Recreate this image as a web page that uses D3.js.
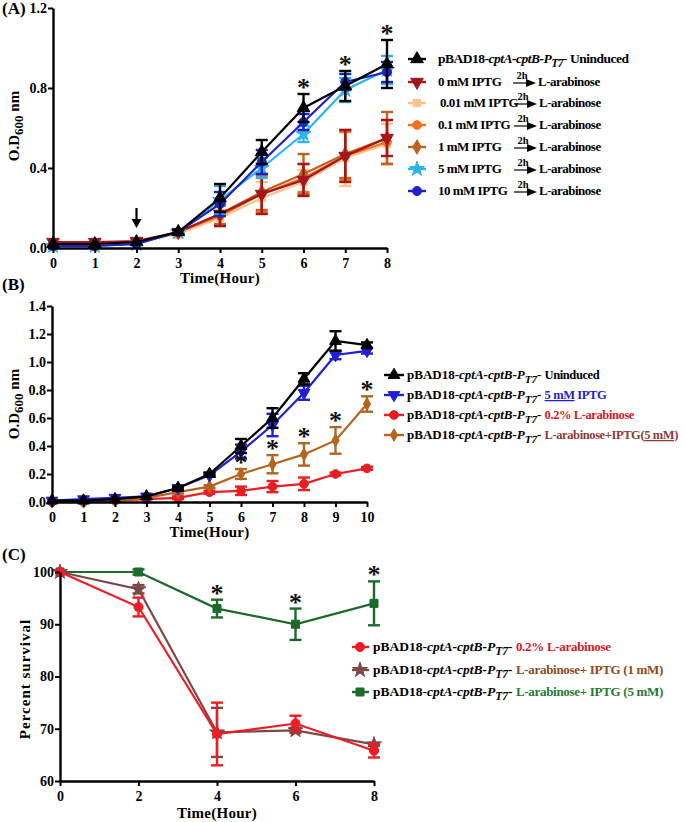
<!DOCTYPE html>
<html><head><meta charset="utf-8">
<script src="https://cdn.jsdelivr.net/npm/d3@7"></script>
<style>
body{margin:0;background:#fff}
text{font-family:"Liberation Serif","Times New Roman",serif;font-weight:bold}
</style>
</head><body>
<svg id="c" width="686" height="822"></svg>
<script>
// ---------------- Panel A data ----------------
const hoursA = [0,1,2,3,4,5,6,7,8];
const aUninduced    = [0.02,0.02,0.03,0.08,0.25,0.48,0.70,0.81,0.92];
const aUninducedErr = [0,0,0,0.01,0.07,0.06,0.07,0.075,0.12];
const a0mM          = [0.03,0.03,0.035,0.08,0.17,0.27,0.34,0.46,0.55];
const a0mMErr       = [0,0,0.01,0.01,0.06,0.10,0.08,0.13,0.09];
const a001mM        = [0.02,0.02,0.03,0.07,0.15,0.25,0.33,0.45,0.52];
const a001mMErr     = [0,0,0,0.02,0.04,0.08,0.06,0.14,0.10];
const a01mM         = [0.02,0.02,0.03,0.08,0.16,0.27,0.35,0.46,0.53];
const a01mMErr      = [0,0,0,0.01,0.05,0.09,0.07,0.12,0.11];
const a1mM          = [0.02,0.02,0.03,0.08,0.17,0.28,0.37,0.47,0.55];
const a1mMErr       = [0,0,0,0.01,0.05,0.09,0.10,0.12,0.13];
const a5mM          = [0.01,0.01,0.02,0.08,0.24,0.40,0.57,0.79,0.89];
const a5mMErr       = [0,0,0,0.01,0.07,0.05,0.04,0.06,0.07];
const a10mM         = [0.01,0.01,0.02,0.08,0.22,0.43,0.63,0.83,0.88];
const a10mMErr      = [0,0,0,0.01,0.06,0.06,0.04,0.04,0.05];
const aStarHours    = [6,7,8];
const aArrow        = [2, 0.2, 0.1]; // hour, from OD, to OD
const aYTicks = [0.0,0.4,0.8,1.2];

// ---------------- Panel B data ----------------
const hoursB = [0,1,2,3,4,5,6,7,8,9,10];
const bUninduced    = [0.01,0.01,0.02,0.04,0.10,0.20,0.40,0.60,0.88,1.15,1.12];
const bUninducedErr = [0,0,0,0,0.01,0.01,0.05,0.07,0.04,0.07,0.02];
const bIPTG         = [0.01,0.02,0.03,0.04,0.10,0.19,0.36,0.55,0.78,1.05,1.08];
const bIPTGErr      = [0,0,0,0,0.01,0.01,0.05,0.08,0.05,0.03,0.02];
const bArab         = [0.0,0.0,0.01,0.02,0.03,0.07,0.08,0.11,0.13,0.20,0.24];
const bArabErr      = [0,0,0,0,0.01,0.01,0.03,0.04,0.045,0.01,0.01];
const bArabIPTG     = [0.0,0.0,0.01,0.03,0.07,0.11,0.20,0.27,0.34,0.44,0.70];
const bArabIPTGErr  = [0,0,0,0,0.01,0.01,0.035,0.065,0.08,0.095,0.055];
const bStarHours    = [6,7,8,9,10];
const bYTicks = [0.0,0.2,0.4,0.6,0.8,1.0,1.2,1.4];

// ---------------- Panel C data ----------------
const hoursC = [0,2,4,6,8];
const cArab        = [100,93.3,69,71,65.8];
const cArabErr     = [0,1.8,6,1.5,1.3];
const cIPTG1       = [100,96.7,69.3,69.7,67];
const cIPTG1Err    = [0,0.8,4.7,0.5,0.3];
const cIPTG5       = [100,100,93,90,94];
const cIPTG5Err    = [0,0.5,1.7,3,4.2];
const cStarHours   = [4,6,8];
const cYTicks = [60,70,80,90,100];

const svg = d3.select("#c");

function sym(type, size, color, rot) {
  return {type, size, color, rot: rot||0};
}
function drawSymbol(g, s, cx, cy) {
  g.append("path").attr("d", d3.symbol().type(s.type).size(s.size)())
    .attr("transform", `translate(${cx},${cy}) rotate(${s.rot})`)
    .attr("fill", s.color).attr("stroke", s.color).attr("stroke-width", 1);
}

function panel(p) {
  const x = d3.scaleLinear().domain(p.xDomain).range([p.left, p.right]);
  const y = d3.scaleLinear().domain(p.yDomain).range([p.bottom, p.top]);
  const g = svg.append("g");
  p.series.forEach(s => {
    const pts = p.hours.map((h,i) => ({h, v: s.values[i], e: s.err[i]}));
    g.append("path").datum(pts)
      .attr("d", d3.line().x(d => x(d.h)).y(d => y(d.v)))
      .attr("fill","none").attr("stroke", s.color).attr("stroke-width", 2.2);
    pts.filter(d => d.e > 0).forEach(d => {
      const x0 = x(d.h), y1 = y(d.v + d.e), y2 = y(d.v - d.e);
      g.append("line").attr("x1",x0).attr("x2",x0).attr("y1",y1).attr("y2",y2)
        .attr("stroke", s.color).attr("stroke-width", 2.4);
      [y1,y2].forEach(yy => g.append("line").attr("x1",x0-6).attr("x2",x0+6).attr("y1",yy).attr("y2",yy)
        .attr("stroke", s.color).attr("stroke-width", 2.4));
    });
    pts.forEach(d => drawSymbol(g, s.sym, x(d.h), y(d.v)));
  });
  p.stars.forEach(h => {
    const i = p.hours.indexOf(h);
    const s = p.starSeries;
    const top = y(s.values[i] + s.err[i]);
    g.append("text").attr("x", x(h)).attr("y", top + 2).attr("text-anchor","middle")
      .attr("font-size", 26).attr("fill","#111").text("*");
  });
  const ax = svg.append("g").attr("transform",`translate(0,${p.bottom})`)
    .call(d3.axisBottom(x).tickValues(p.xTicks).tickSize(5).tickSizeOuter(0).tickFormat(d3.format("d")));
  const ay = svg.append("g").attr("transform",`translate(${p.left},0)`)
    .call(d3.axisLeft(y).tickValues(p.yTicks).tickSize(5).tickSizeOuter(0).tickFormat(p.yFmt));
  [ax, ay].forEach(a => {
    a.select(".domain").attr("stroke","#000").attr("stroke-width",2.4);
    a.selectAll(".tick line").attr("stroke","#000").attr("stroke-width",2);
    a.selectAll(".tick text").attr("font-size",14).attr("fill","#000")
      .style("font-family",'"Liberation Serif",serif').style("font-weight","bold");
  });
  ax.selectAll(".tick text").attr("dy","0.85em");
  ay.selectAll(".tick text").attr("x",-6);
  svg.append("text").attr("x",(p.left+p.right)/2).attr("y",p.xLabelY).attr("text-anchor","middle")
    .attr("font-size",15).attr("letter-spacing",0.3).text("Time(Hour)");
  const yl = svg.append("text").attr("transform",`translate(${p.yLabelX},${p.yLabelY}) rotate(-90)`)
    .attr("text-anchor","middle").attr("font-size",15);
  if (p.yLabel === "OD") {
    yl.append("tspan").text("O.D");
    yl.append("tspan").attr("dy",4).attr("font-size",13).text("600");
    yl.append("tspan").attr("dy",-4).text(" nm");
  } else {
    yl.attr("letter-spacing",1).text(p.yLabel);
  }
  svg.append("text").attr("x",2).attr("y",p.tagY).attr("font-size",17).text(p.tag);
  return {x, y, g};
}

function pbadPrefix(t, fs) {
  t.append("tspan").attr("font-size",fs).text("pBAD18-");
  t.append("tspan").attr("font-size",fs).attr("font-style","italic").text("cptA-cptB-P");
  t.append("tspan").attr("font-style","italic").attr("dy",4).attr("font-size",fs-2).text("T7");
  t.append("tspan").attr("font-size",fs).attr("dy",-4).text("- ");
}

// ================= Panel A =================
const sA = {
  un:  sym(d3.symbolTriangle, 70, "#000000"),
  m0:  sym(d3.symbolTriangle, 70, "#a3171c", 180),
  m001:sym(d3.symbolSquare, 55, "#fbc48d"),
  m01: sym(d3.symbolCircle, 60, "#f47021"),
  m1:  sym(d3.symbolDiamond, 60, "#c2611e"),
  m5:  sym(d3.symbolStar, 70, "#2bb5ec"),
  m10: sym(d3.symbolCircle, 65, "#1c22c6")
};
const seriesA = [
  {values:a001mM, err:a001mMErr, color:"#fbc48d", sym:sA.m001},
  {values:a01mM, err:a01mMErr, color:"#f47021", sym:sA.m01},
  {values:a1mM, err:a1mMErr, color:"#c2611e", sym:sA.m1},
  {values:a0mM, err:a0mMErr, color:"#a3171c", sym:sA.m0},
  {values:a5mM, err:a5mMErr, color:"#2bb5ec", sym:sA.m5},
  {values:a10mM, err:a10mMErr, color:"#1c22c6", sym:sA.m10},
  {values:aUninduced, err:aUninducedErr, color:"#000000", sym:sA.un}
];
const PA = panel({xDomain:[0,8], yDomain:[0,1.2], left:53, right:387, top:8, bottom:248,
  hours:hoursA, xTicks:hoursA, yTicks:aYTicks, yFmt:d3.format(".1f"),
  series:seriesA, stars:aStarHours, starSeries:seriesA[6],
  xLabelY:283, yLabelX:19, yLabelY:126, yLabel:"OD", tag:"(A)", tagY:14});
{
  const ax0 = PA.x(aArrow[0]), yA = PA.y(aArrow[1]), yB = PA.y(aArrow[2]);
  svg.append("line").attr("x1",ax0).attr("x2",ax0).attr("y1",yA).attr("y2",yB-8)
    .attr("stroke","#000").attr("stroke-width",2.2);
  svg.append("path").attr("d",`M${ax0-5},${yB-9}L${ax0+5},${yB-9}L${ax0},${yB}Z`).attr("fill","#000");
}
const legA = [
  {s:sA.un, label:"Uninduced", pre:true},
  {s:sA.m0, label:"0 mM IPTG", arrowX:513, lx:438},
  {s:sA.m001, label:"0.01 mM IPTG", arrowX:514, lx:440},
  {s:sA.m01, label:"0.1 mM  IPTG", arrowX:514, lx:438},
  {s:sA.m1, label:"1 mM  IPTG", arrowX:514, lx:438},
  {s:sA.m5, label:"5 mM  IPTG", arrowX:514, lx:438},
  {s:sA.m10, label:"10 mM  IPTG", arrowX:514, lx:438}
];
const legAY = [59,82,103,125,147,169,191];
legA.forEach((d,i) => {
  const yy = legAY[i];
  svg.append("line").attr("x1",408).attr("x2",426).attr("y1",yy).attr("y2",yy)
    .attr("stroke",d.s.color).attr("stroke-width",2.4);
  drawSymbol(svg, d.s, 417, yy);
  const t = svg.append("text").attr("x",d.lx || 438).attr("y",yy+4).attr("font-size",13).attr("letter-spacing",-0.5);
  if (d.pre) { pbadPrefix(t, 13.5); t.append("tspan").attr("font-size",13.5).text(d.label); }
  else {
    t.text(d.label);
    const xa = d.arrowX;
    svg.append("text").attr("x",xa+9).attr("y",yy-3).attr("text-anchor","middle").attr("font-size",10.5).text("2h");
    svg.append("line").attr("x1",xa).attr("x2",xa+16).attr("y1",yy+1).attr("y2",yy+1).attr("stroke","#000").attr("stroke-width",1.2);
    svg.append("path").attr("d",`M${xa+13},${yy-3}L${xa+23},${yy+1}L${xa+13},${yy+5}Z`).attr("fill","#000");
    svg.append("text").attr("x",xa+25).attr("y",yy+4).attr("font-size",13).attr("letter-spacing",-0.5).text("L-arabinose");
  }
});

// ================= Panel B =================
const sB = {
  un: sym(d3.symbolTriangle, 60, "#000000"),
  ip: sym(d3.symbolTriangle, 60, "#1f1fd6", 180),
  ar: sym(d3.symbolCircle, 60, "#ec1c24"),
  ai: sym(d3.symbolDiamond, 45, "#b3651f")
};
const seriesB = [
  {values:bArab, err:bArabErr, color:"#ec1c24", sym:sB.ar},
  {values:bArabIPTG, err:bArabIPTGErr, color:"#b3651f", sym:sB.ai},
  {values:bIPTG, err:bIPTGErr, color:"#1f1fd6", sym:sB.ip},
  {values:bUninduced, err:bUninducedErr, color:"#000000", sym:sB.un}
];
panel({xDomain:[0,10], yDomain:[0,1.4], left:52, right:367, top:306, bottom:502,
  hours:hoursB, xTicks:hoursB, yTicks:bYTicks, yFmt:d3.format(".1f"),
  series:seriesB, stars:bStarHours, starSeries:seriesB[1],
  xLabelY:537, yLabelX:19, yLabelY:404, yLabel:"OD", tag:"(B)", tagY:290});
const legB = [
  {s:sB.un, parts:[{t:"Uninduced", c:"#000"}]},
  {s:sB.ip, parts:[{t:"5 mM", c:"#2222cc", u:true},{t:" IPTG", c:"#2222cc"}]},
  {s:sB.ar, parts:[{t:"0.2% L-arabinose", c:"#d7191f"}]},
  {s:sB.ai, parts:[{t:"L-arabinose+IPTG(", c:"#8c3b3b"},{t:"5 mM", c:"#8c3b3b", u:true},{t:")", c:"#8c3b3b"}]}
];
const legBY = [375,395,415,435];
legB.forEach((d,i) => {
  const yy = legBY[i];
  svg.append("line").attr("x1",384).attr("x2",404).attr("y1",yy).attr("y2",yy)
    .attr("stroke",d.s.color).attr("stroke-width",2.4);
  drawSymbol(svg, d.s, 394, yy);
  const t = svg.append("text").attr("x",407).attr("y",yy+4).attr("font-size",12.5);
  pbadPrefix(t, 13);
  d.parts.forEach(pp => {
    const ts = t.append("tspan").attr("fill",pp.c).attr("letter-spacing",-0.4).text(pp.t);
    if (pp.u) ts.attr("text-decoration","underline");
  });
});

// ================= Panel C =================
const sC = {
  ar: sym(d3.symbolCircle, 65, "#ee1c25"),
  i1: sym(d3.symbolStar, 70, "#7e4848"),
  i5: sym(d3.symbolSquare, 65, "#1d6a2c")
};
const seriesC = [
  {values:cIPTG5, err:cIPTG5Err, color:"#1d6a2c", sym:sC.i5},
  {values:cIPTG1, err:cIPTG1Err, color:"#7e4848", sym:sC.i1},
  {values:cArab, err:cArabErr, color:"#ee1c25", sym:sC.ar}
];
panel({xDomain:[0,8], yDomain:[60,100], left:60, right:374, top:572, bottom:781,
  hours:hoursC, xTicks:hoursC, yTicks:cYTicks, yFmt:d3.format("d"),
  series:seriesC, stars:cStarHours, starSeries:seriesC[0],
  xLabelY:818, yLabelX:30, yLabelY:679, yLabel:"Percent survival", tag:"(C)", tagY:560});
const legC = [
  {s:sC.ar, parts:[{t:"0.2% L-arabinose", c:"#d7191f"}]},
  {s:sC.i1, parts:[{t:"L-arabinose+ IPTG (1 mM)", c:"#8b4a1e"}]},
  {s:sC.i5, parts:[{t:"L-arabinose+ IPTG (5 mM)", c:"#1e7a35"}]}
];
const legCY = [647,670,692];
legC.forEach((d,i) => {
  const yy = legCY[i];
  svg.append("line").attr("x1",352).attr("x2",369).attr("y1",yy).attr("y2",yy)
    .attr("stroke",d.s.color).attr("stroke-width",2.4);
  drawSymbol(svg, d.s, 360, yy);
  const t = svg.append("text").attr("x",373).attr("y",yy+4).attr("font-size",13);
  pbadPrefix(t, 13.5);
  d.parts.forEach(pp => t.append("tspan").attr("fill",pp.c).attr("letter-spacing",-0.3).text(pp.t));
});
</script>
</body></html>
